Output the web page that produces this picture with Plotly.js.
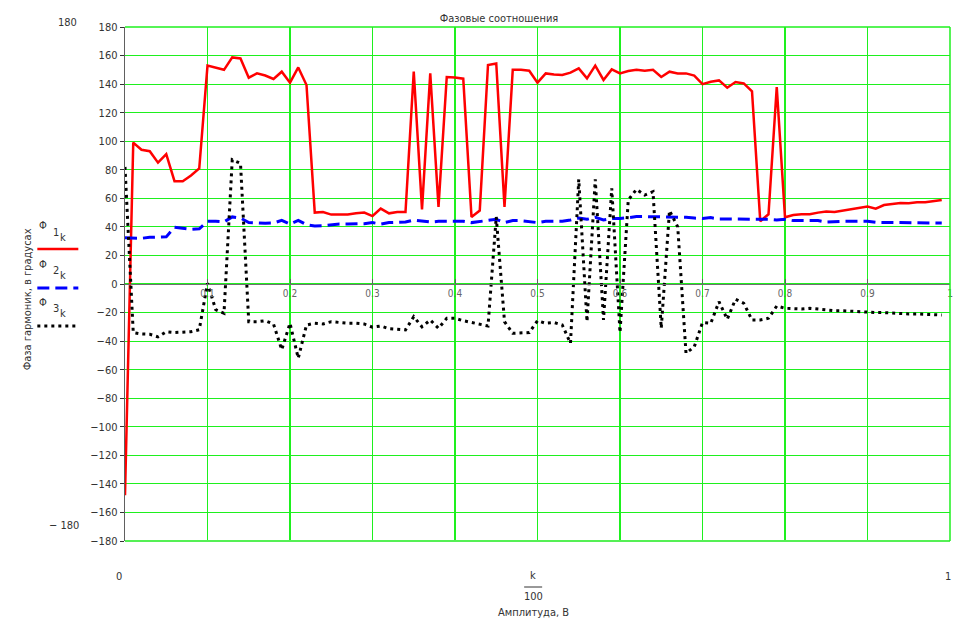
<!DOCTYPE html>
<html>
<head>
<meta charset="utf-8">
<script src="https://cdn.plot.ly/plotly-3.0.1.min.js"></script>
<style>html,body{margin:0;padding:0;background:#fff;}#chart{width:977px;height:621px;}</style>
</head>
<body>
<div id="chart"></div>
<script>
// k = 0..99, x = k/100
const phi1 = [-148, 99, 94, 93, 85, 91, 72, 72, 76, 81,
  153, 151.5, 150, 158.7, 158, 144.5, 147.5, 146, 143.6, 148.7,
  141, 151.7, 139.4, 50, 50.4, 48.6, 48.6, 48.6, 49.5, 50,
  47.6, 52.8, 49.5, 50.4, 50.4, 148.7, 52.3, 147.5, 54, 145,
  144.7, 143.8, 47, 51.4, 153.4, 154.5, 54, 150, 150, 149.4,
  141, 147.5, 146.8, 146.4, 148, 151, 144, 152.9, 142.9, 150.3,
  147.5, 149.2, 150, 149.4, 150, 145, 148.7, 147.5, 147.5, 146,
  140, 141.7, 142.6, 137.5, 141.5, 140.5, 135, 44, 48.8, 138,
  46.7, 48.3, 48.8, 48.8, 50, 50.7, 50.4, 51.4, 52.5, 53.2,
  54.2, 52.8, 55.3, 56, 56.7, 56.5, 57.2, 57.2, 57.9, 58.8];
const phi2 = [32.4, 32, 32, 32.7, 33, 33, 39.7, 39, 38.3, 38.7,
  43.9, 43.9, 43.5, 47, 46.2, 43, 42.5, 42.5, 42.7, 44.6,
  42, 44.6, 41.5, 40.6, 40.8, 41.5, 42, 42, 42.2, 42.2,
  43, 42, 43, 43.4, 43.4, 44.8, 43.9, 43.4, 43.9, 43.9,
  43.9, 43.9, 43, 43.9, 44.4, 45.3, 43, 44.4, 44.4, 43.9,
  43, 43.9, 43.9, 43.9, 44.8, 46.2, 45.3, 46.7, 44.8, 45.8,
  45.8, 46.7, 47.2, 47.2, 47.2, 46.7, 47.2, 46.7, 46.7, 46.2,
  45.8, 46.5, 45.5, 45.5, 45.5, 45.5, 45.5, 45.3, 45.3, 44.8,
  45.3, 44.4, 44.4, 44.4, 44.4, 43.4, 43.9, 43.9, 43.9, 43.9,
  43.9, 43.2, 43.2, 43.2, 43.2, 43.2, 42.7, 42.7, 42.7, 42.7];
const phi3 = [82, -34, -35, -35.2, -37, -33.4, -34, -33.6, -33.4, -32,
  0.5, -18, -20.5, 87, 84.5, -26.4, -26.4, -25.7, -28, -46,
  -27.5, -52, -28.7, -27.5, -28, -26.4, -27, -27.5, -27.5, -28,
  -30.3, -29.4, -31.3, -31.7, -32.2, -22.9, -30, -25.2, -31, -24,
  -24, -25.7, -27, -28, -29.4, 47, -26.4, -34.5, -34.5, -34,
  -25.7, -27.5, -27, -28.7, -41.5, 73.3, -26.4, 73.3, -25.2, 67,
  -34, 58.8, 66.3, 62.3, 64.7, -31, 51.4, 40, -48.5, -44,
  -27, -27.5, -12.4, -24.7, -10.7, -13.5, -25.2, -25.2, -24, -15.4,
  -17, -17.5, -17.5, -17, -17.7, -18.2, -18.7, -18.7, -19.1, -19.1,
  -19.4, -20, -20, -20.5, -20.7, -21, -21, -21.2, -21.5, -21.7];
const xTicks = [0.1, 0.2, 0.3, 0.4, 0.5, 0.6, 0.7, 0.8, 0.9, 1];
const xTickText = ['0.1', '0.2', '0.3', '0.4', '0.5', '0.6', '0.7', '0.8', '0.9', '1'];
const yTicks = [-180,-160,-140,-120,-100,-80,-60,-40,-20,0,20,40,60,80,100,120,140,160,180];
const yTickText = yTicks.map(v => v < 0 ? '\u2212' + Math.abs(v) : String(v));

const kx = phi1.map((_, i) => i / 100);
const FONT = 'Liberation Sans Narrow, Arial Narrow, DejaVu Sans Condensed, sans-serif';
const GREEN = '#1ef01e';

const traces = [
  {x: kx, y: phi1, type: 'scatter', mode: 'lines', line: {color: '#ff0000', width: 2.5}, name: 'Φ1k'},
  {x: kx, y: phi2, type: 'scatter', mode: 'lines', line: {color: '#0000ff', width: 3, dash: '12px,6px'}, name: 'Φ2k'},
  {x: kx, y: phi3, type: 'scatter', mode: 'lines', line: {color: '#000000', width: 3, dash: '3px,4px'}, name: 'Φ3k'}
];

const txt = (x, y, text, size, extra) => Object.assign({
  xref: 'paper', yref: 'paper', x: x, y: y, text: text, showarrow: false,
  font: {family: FONT, size: size || 11, color: '#333'}, xanchor: 'center', yanchor: 'middle'
}, extra || {});

// convert pixel coordinates to paper fractions
const L = 124.7, R = 950, T = 27, B = 541;
const px = x => (x - L) / (R - L);
const py = y => (B - y) / (B - T);

const annotations = [
  txt(px(67), py(22), '180', 11),
  txt(px(64), py(525), '\u2212 180', 11),
  txt(px(119), py(576), '0', 11),
  txt(px(948), py(576), '1', 11),
  txt(px(533), py(575), 'k', 11),
  txt(px(533), py(596), '100', 11),
  txt(px(533), py(612), 'Амплитуда, В', 11),
  txt(px(27), py(299), 'Фаза гармоник, в градусах', 11, {textangle: -90}),
  txt(px(43), py(226), 'Φ', 11),
  txt(px(56), py(232), '1', 11),
  txt(px(63), py(237), 'k', 11),
  txt(px(43), py(264), 'Φ', 11),
  txt(px(56), py(270), '2', 11),
  txt(px(63), py(275), 'k', 11),
  txt(px(43), py(302), 'Φ', 11),
  txt(px(56), py(308), '3', 11),
  txt(px(63), py(313), 'k', 11)
];

const shapes = [
  {type: 'line', xref: 'paper', yref: 'paper', x0: 0, x1: 1, y0: 1, y1: 1, line: {color: GREEN, width: 1.5}},
  {type: 'line', xref: 'paper', yref: 'paper', x0: 0, x1: 1, y0: 0, y1: 0, line: {color: '#55f055', width: 2}},
  {type: 'line', xref: 'paper', yref: 'paper', x0: 1, x1: 1, y0: 0, y1: 1, line: {color: GREEN, width: 1.5}},
  {type: 'line', xref: 'paper', yref: 'paper', x0: px(524), x1: px(542), y0: py(587), y1: py(587), line: {color: '#333', width: 1}},
  {type: 'line', xref: 'paper', yref: 'paper', x0: px(37), x1: px(78), y0: py(249), y1: py(249), line: {color: '#ff0000', width: 2.5}},
  {type: 'line', xref: 'paper', yref: 'paper', x0: px(37), x1: px(78), y0: py(288), y1: py(288), line: {color: '#0000ff', width: 3, dash: '12px,6px'}},
  {type: 'line', xref: 'paper', yref: 'paper', x0: px(37), x1: px(78), y0: py(326), y1: py(326), line: {color: '#000000', width: 3, dash: '3px,4px'}}
];

const layout = {
  width: 977, height: 621,
  margin: {l: L, r: 977 - R, t: T, b: 621 - B, pad: 0},
  paper_bgcolor: '#ffffff', plot_bgcolor: '#ffffff',
  showlegend: false,
  hovermode: false,
  title: {text: 'Фазовые соотношения', x: px(499) * (R - L) / 977 + L / 977, xanchor: 'center', y: 1 - 18 / 621, yanchor: 'middle',
          font: {family: FONT, size: 11, color: '#333'}},
  xaxis: {
    range: [0, 1], tickvals: xTicks, ticktext: xTickText,
    anchor: 'free', position: 0.5,
    showgrid: true, gridcolor: GREEN, gridwidth: 1.2,
    zeroline: false, showline: true, linecolor: '#707070', linewidth: 1.3,
    ticks: 'inside', ticklen: 5, tickcolor: '#606060',
    tickfont: {family: FONT, size: 10, color: '#666'}
  },
  yaxis: {
    range: [-180, 180], tickvals: yTicks, ticktext: yTickText,
    showgrid: true, gridcolor: GREEN, gridwidth: 1.2,
    zeroline: false, showline: true, linecolor: '#606060', linewidth: 1.3,
    ticks: 'outside', ticklen: 4, tickcolor: '#333',
    tickfont: {family: FONT, size: 11, color: '#333'}
  },
  annotations: annotations,
  shapes: shapes
};

Plotly.newPlot('chart', traces, layout, {displayModeBar: false, staticPlot: true});
</script>
</body>
</html>
